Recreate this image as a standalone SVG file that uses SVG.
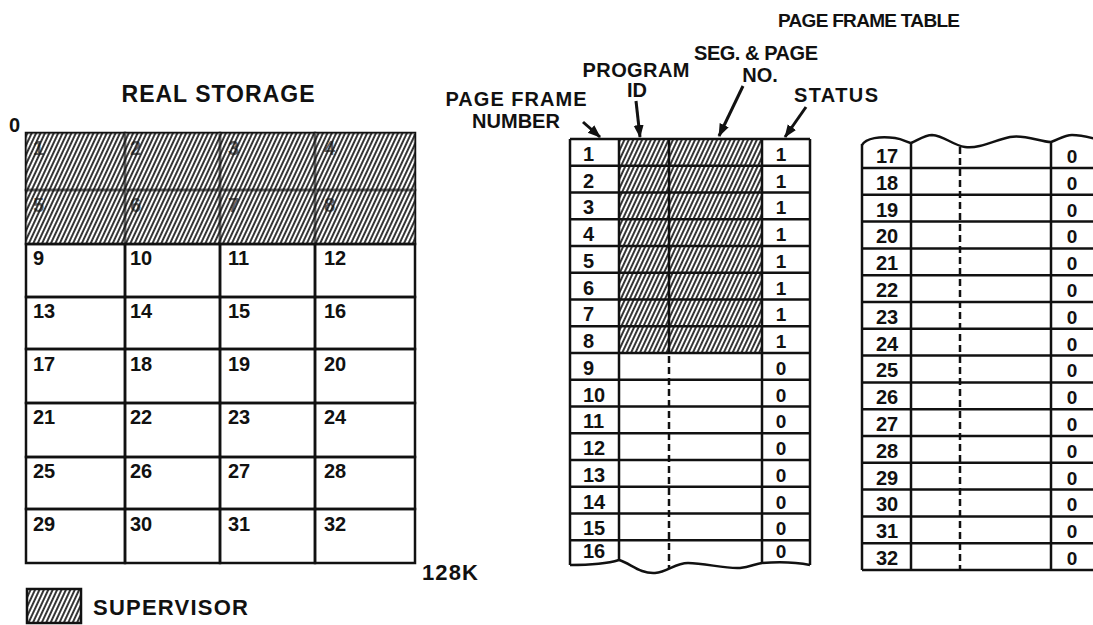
<svg xmlns="http://www.w3.org/2000/svg" width="1093" height="625" viewBox="0 0 1093 625">
<style>
  text { font-family: "Liberation Sans", Arial, sans-serif; font-weight: bold; fill: #111; }
  .lbl { font-size: 20px; text-anchor: middle; }
  .ttl { text-anchor: middle; }
  .rsn { font-size: 20px; }
  .tn { font-size: 20px; }
  .st { font-size: 19px; text-anchor: middle; }
  .cell { fill: none; stroke: #111; stroke-width: 2.5; }
  .ln { fill: none; stroke: #111; stroke-width: 2.5; }
  .dash { fill: none; stroke: #111; stroke-width: 2.5; stroke-dasharray: 7 4; }
  .hatch { fill: url(#hatch); stroke: none; }
  .arrow { fill: none; stroke: #111; stroke-width: 3; marker-end: url(#head); }
</style>
<defs>
  <pattern id="hatch" patternUnits="userSpaceOnUse" width="4" height="10" patternTransform="rotate(25)">
    <rect x="0" y="0" width="4" height="10" fill="#fff"/>
    <line x1="1" y1="0" x2="1" y2="10" stroke="#111" stroke-width="1.7"/>
  </pattern>
  <marker id="head" markerUnits="userSpaceOnUse" markerWidth="14" markerHeight="12" refX="12" refY="5" orient="auto">
    <path d="M0,0 L13,5 L0,10 z" fill="#111"/>
  </marker>
</defs>
<rect width="1093" height="625" fill="#fff"/>

<!-- REAL STORAGE -->
<g id="real-storage-title">
  <text class="ttl" x="218" y="102" style="font-size:23px" textLength="193">REAL STORAGE</text>
  <text x="9" y="132" style="font-size:20px">0</text>
  <text x="422" y="580" style="font-size:22px" textLength="56">128K</text>
</g>
<g id="real-storage">
  <rect class="hatch" x="26" y="133" width="389" height="111"/>
  <g id="rs-1"><rect class="cell" x="26" y="133" width="99" height="57"/><text class="rsn" x="33" y="155">1</text></g>
  <g id="rs-2"><rect class="cell" x="125" y="133" width="95" height="57"/><text class="rsn" x="130" y="155">2</text></g>
  <g id="rs-3"><rect class="cell" x="220" y="133" width="95" height="57"/><text class="rsn" x="228" y="155">3</text></g>
  <g id="rs-4"><rect class="cell" x="315" y="133" width="100" height="57"/><text class="rsn" x="324" y="155">4</text></g>
  <g id="rs-5"><rect class="cell" x="26" y="190" width="99" height="54"/><text class="rsn" x="33" y="212">5</text></g>
  <g id="rs-6"><rect class="cell" x="125" y="190" width="95" height="54"/><text class="rsn" x="130" y="212">6</text></g>
  <g id="rs-7"><rect class="cell" x="220" y="190" width="95" height="54"/><text class="rsn" x="228" y="212">7</text></g>
  <g id="rs-8"><rect class="cell" x="315" y="190" width="100" height="54"/><text class="rsn" x="324" y="212">8</text></g>
  <rect class="hatch" x="26" y="133" width="389" height="111" opacity="0.35"/>
  <g id="rs-9"><rect class="cell" x="26" y="244" width="99" height="53"/><text class="rsn" x="33" y="265">9</text></g>
  <g id="rs-10"><rect class="cell" x="125" y="244" width="95" height="53"/><text class="rsn" x="130" y="265">10</text></g>
  <g id="rs-11"><rect class="cell" x="220" y="244" width="95" height="53"/><text class="rsn" x="228" y="265">11</text></g>
  <g id="rs-12"><rect class="cell" x="315" y="244" width="100" height="53"/><text class="rsn" x="324" y="265">12</text></g>
  <g id="rs-13"><rect class="cell" x="26" y="297" width="99" height="52"/><text class="rsn" x="33" y="318">13</text></g>
  <g id="rs-14"><rect class="cell" x="125" y="297" width="95" height="52"/><text class="rsn" x="130" y="318">14</text></g>
  <g id="rs-15"><rect class="cell" x="220" y="297" width="95" height="52"/><text class="rsn" x="228" y="318">15</text></g>
  <g id="rs-16"><rect class="cell" x="315" y="297" width="100" height="52"/><text class="rsn" x="324" y="318">16</text></g>
  <g id="rs-17"><rect class="cell" x="26" y="349" width="99" height="54"/><text class="rsn" x="33" y="371">17</text></g>
  <g id="rs-18"><rect class="cell" x="125" y="349" width="95" height="54"/><text class="rsn" x="130" y="371">18</text></g>
  <g id="rs-19"><rect class="cell" x="220" y="349" width="95" height="54"/><text class="rsn" x="228" y="371">19</text></g>
  <g id="rs-20"><rect class="cell" x="315" y="349" width="100" height="54"/><text class="rsn" x="324" y="371">20</text></g>
  <g id="rs-21"><rect class="cell" x="26" y="403" width="99" height="54"/><text class="rsn" x="33" y="424">21</text></g>
  <g id="rs-22"><rect class="cell" x="125" y="403" width="95" height="54"/><text class="rsn" x="130" y="424">22</text></g>
  <g id="rs-23"><rect class="cell" x="220" y="403" width="95" height="54"/><text class="rsn" x="228" y="424">23</text></g>
  <g id="rs-24"><rect class="cell" x="315" y="403" width="100" height="54"/><text class="rsn" x="324" y="424">24</text></g>
  <g id="rs-25"><rect class="cell" x="26" y="457" width="99" height="52"/><text class="rsn" x="33" y="478">25</text></g>
  <g id="rs-26"><rect class="cell" x="125" y="457" width="95" height="52"/><text class="rsn" x="130" y="478">26</text></g>
  <g id="rs-27"><rect class="cell" x="220" y="457" width="95" height="52"/><text class="rsn" x="228" y="478">27</text></g>
  <g id="rs-28"><rect class="cell" x="315" y="457" width="100" height="52"/><text class="rsn" x="324" y="478">28</text></g>
  <g id="rs-29"><rect class="cell" x="26" y="509" width="99" height="54"/><text class="rsn" x="33" y="531">29</text></g>
  <g id="rs-30"><rect class="cell" x="125" y="509" width="95" height="54"/><text class="rsn" x="130" y="531">30</text></g>
  <g id="rs-31"><rect class="cell" x="220" y="509" width="95" height="54"/><text class="rsn" x="228" y="531">31</text></g>
  <g id="rs-32"><rect class="cell" x="315" y="509" width="100" height="54"/><text class="rsn" x="324" y="531">32</text></g>
</g>

<g id="legend">
  <rect x="27" y="589" width="54" height="34" fill="url(#hatch)" stroke="#111" stroke-width="2.5"/>
  <text x="93" y="615" style="font-size:22px" textLength="155">SUPERVISOR</text>
</g>

<!-- PAGE FRAME TABLE -->
<g id="pft-title">
  <text class="ttl" x="869" y="27" style="font-size:19px" textLength="182">PAGE FRAME TABLE</text>
</g>
<g id="pft-labels">
  <text class="lbl" x="516" y="106" textLength="141">PAGE FRAME</text>
  <text class="lbl" x="516" y="128">NUMBER</text>
  <text class="lbl" x="636" y="77" textLength="107">PROGRAM</text>
  <text class="lbl" x="637" y="97">ID</text>
  <text class="lbl" x="756" y="60" textLength="124">SEG. &amp; PAGE</text>
  <text class="lbl" x="760" y="82">NO.</text>
  <text class="lbl" x="836" y="102" textLength="84">STATUS</text>
</g>

<g id="pft-left">
  <rect class="hatch" x="619" y="139" width="143" height="214"/>
  <g class="ln">
    <line x1="570" y1="139" x2="810" y2="139"/>
    <line x1="570" y1="165.75" x2="810" y2="165.75"/>
    <line x1="570" y1="192.5" x2="810" y2="192.5"/>
    <line x1="570" y1="219.25" x2="810" y2="219.25"/>
    <line x1="570" y1="246" x2="810" y2="246"/>
    <line x1="570" y1="272.75" x2="810" y2="272.75"/>
    <line x1="570" y1="299.5" x2="810" y2="299.5"/>
    <line x1="570" y1="326.25" x2="810" y2="326.25"/>
    <line x1="570" y1="353" x2="810" y2="353"/>
    <line x1="570" y1="379.75" x2="810" y2="379.75"/>
    <line x1="570" y1="406.5" x2="810" y2="406.5"/>
    <line x1="570" y1="433.25" x2="810" y2="433.25"/>
    <line x1="570" y1="460" x2="810" y2="460"/>
    <line x1="570" y1="486.75" x2="810" y2="486.75"/>
    <line x1="570" y1="513.5" x2="810" y2="513.5"/>
    <line x1="570" y1="540.25" x2="810" y2="540.25"/>
    <line x1="570" y1="139" x2="570" y2="565"/>
    <line x1="619" y1="139" x2="619" y2="560"/>
    <line x1="669" y1="139" x2="669" y2="353"/>
    <line x1="762" y1="139" x2="762" y2="563"/>
    <line x1="810" y1="139" x2="810" y2="565"/>
    <path d="M570,565 C588,565 606,564 619,560 C630,563 640,574 655,573 C668,572 675,563 688,563 C705,563 725,569 740,568 C750,567 755,564 762,563 C775,562 795,562 810,565"/>
  </g>
  <line class="dash" x1="669" y1="356" x2="669" y2="569"/>
  <g id="pft-row-1"><text class="tn" x="583" y="160.75">1</text><text class="st" x="781" y="160.75">1</text></g>
  <g id="pft-row-2"><text class="tn" x="583" y="187.5">2</text><text class="st" x="781" y="187.5">1</text></g>
  <g id="pft-row-3"><text class="tn" x="583" y="214.25">3</text><text class="st" x="781" y="214.25">1</text></g>
  <g id="pft-row-4"><text class="tn" x="583" y="241">4</text><text class="st" x="781" y="241">1</text></g>
  <g id="pft-row-5"><text class="tn" x="583" y="267.75">5</text><text class="st" x="781" y="267.75">1</text></g>
  <g id="pft-row-6"><text class="tn" x="583" y="294.5">6</text><text class="st" x="781" y="294.5">1</text></g>
  <g id="pft-row-7"><text class="tn" x="583" y="321.25">7</text><text class="st" x="781" y="321.25">1</text></g>
  <g id="pft-row-8"><text class="tn" x="583" y="348">8</text><text class="st" x="781" y="348">1</text></g>
  <g id="pft-row-9"><text class="tn" x="583" y="374.75">9</text><text class="st" x="781" y="374.75">0</text></g>
  <g id="pft-row-10"><text class="tn" x="583" y="401.5">10</text><text class="st" x="781" y="401.5">0</text></g>
  <g id="pft-row-11"><text class="tn" x="583" y="428.25">11</text><text class="st" x="781" y="428.25">0</text></g>
  <g id="pft-row-12"><text class="tn" x="583" y="455">12</text><text class="st" x="781" y="455">0</text></g>
  <g id="pft-row-13"><text class="tn" x="583" y="481.75">13</text><text class="st" x="781" y="481.75">0</text></g>
  <g id="pft-row-14"><text class="tn" x="583" y="508.5">14</text><text class="st" x="781" y="508.5">0</text></g>
  <g id="pft-row-15"><text class="tn" x="583" y="535.25">15</text><text class="st" x="781" y="535.25">0</text></g>
  <g id="pft-row-16"><text class="tn" x="583" y="558">16</text><text class="st" x="781" y="558">0</text></g>
</g>

<g id="pft-right">
  <g class="ln">
    <path d="M862,145 C866,138 880,136 895,138 C903,139 908,143 911,143 C918,140 925,135 932,135 C945,136 952,145 965,147 C980,149 995,140 1010,137 C1025,134 1040,142 1051,142 C1058,140 1064,135 1072,135 C1082,135 1092,138 1100,140"/>
    <line x1="862" y1="168" x2="1100" y2="168"/>
    <line x1="862" y1="194.8" x2="1100" y2="194.8"/>
    <line x1="862" y1="221.6" x2="1100" y2="221.6"/>
    <line x1="862" y1="248.4" x2="1100" y2="248.4"/>
    <line x1="862" y1="275.2" x2="1100" y2="275.2"/>
    <line x1="862" y1="302" x2="1100" y2="302"/>
    <line x1="862" y1="328.8" x2="1100" y2="328.8"/>
    <line x1="862" y1="355.6" x2="1100" y2="355.6"/>
    <line x1="862" y1="382.4" x2="1100" y2="382.4"/>
    <line x1="862" y1="409.2" x2="1100" y2="409.2"/>
    <line x1="862" y1="436" x2="1100" y2="436"/>
    <line x1="862" y1="462.8" x2="1100" y2="462.8"/>
    <line x1="862" y1="489.6" x2="1100" y2="489.6"/>
    <line x1="862" y1="516.4" x2="1100" y2="516.4"/>
    <line x1="862" y1="543.2" x2="1100" y2="543.2"/>
    <line x1="862" y1="570" x2="1100" y2="570"/>
    <line x1="862" y1="144" x2="862" y2="570"/>
    <line x1="911" y1="143" x2="911" y2="570"/>
    <line x1="1051" y1="142" x2="1051" y2="570"/>
  </g>
  <line class="dash" x1="960" y1="147" x2="960" y2="570"/>
  <g id="pft-row-17"><text class="tn" x="876" y="163">17</text><text class="st" x="1072" y="163">0</text></g>
  <g id="pft-row-18"><text class="tn" x="876" y="189.8">18</text><text class="st" x="1072" y="189.8">0</text></g>
  <g id="pft-row-19"><text class="tn" x="876" y="216.6">19</text><text class="st" x="1072" y="216.6">0</text></g>
  <g id="pft-row-20"><text class="tn" x="876" y="243.4">20</text><text class="st" x="1072" y="243.4">0</text></g>
  <g id="pft-row-21"><text class="tn" x="876" y="270.2">21</text><text class="st" x="1072" y="270.2">0</text></g>
  <g id="pft-row-22"><text class="tn" x="876" y="297">22</text><text class="st" x="1072" y="297">0</text></g>
  <g id="pft-row-23"><text class="tn" x="876" y="323.8">23</text><text class="st" x="1072" y="323.8">0</text></g>
  <g id="pft-row-24"><text class="tn" x="876" y="350.6">24</text><text class="st" x="1072" y="350.6">0</text></g>
  <g id="pft-row-25"><text class="tn" x="876" y="377.4">25</text><text class="st" x="1072" y="377.4">0</text></g>
  <g id="pft-row-26"><text class="tn" x="876" y="404.2">26</text><text class="st" x="1072" y="404.2">0</text></g>
  <g id="pft-row-27"><text class="tn" x="876" y="431">27</text><text class="st" x="1072" y="431">0</text></g>
  <g id="pft-row-28"><text class="tn" x="876" y="457.8">28</text><text class="st" x="1072" y="457.8">0</text></g>
  <g id="pft-row-29"><text class="tn" x="876" y="484.6">29</text><text class="st" x="1072" y="484.6">0</text></g>
  <g id="pft-row-30"><text class="tn" x="876" y="511.4">30</text><text class="st" x="1072" y="511.4">0</text></g>
  <g id="pft-row-31"><text class="tn" x="876" y="538.2">31</text><text class="st" x="1072" y="538.2">0</text></g>
  <g id="pft-row-32"><text class="tn" x="876" y="565">32</text><text class="st" x="1072" y="565">0</text></g>
</g>

<g id="connectors">
  <line class="arrow" x1="583" y1="122" x2="600" y2="137"/>
  <line class="arrow" x1="636" y1="101" x2="640" y2="137"/>
  <line class="arrow" x1="743" y1="86" x2="719" y2="136"/>
  <line class="arrow" x1="806" y1="107" x2="785" y2="137"/>
</g>
</svg>
